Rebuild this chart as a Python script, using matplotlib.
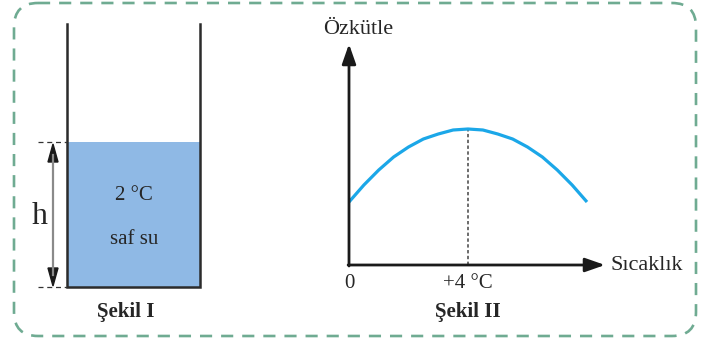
import matplotlib
matplotlib.use("Agg")
import matplotlib.pyplot as plt
from matplotlib.patches import FancyBboxPatch, Rectangle, Polygon

# ---- data ----
temps = [0, 0.5, 1, 1.5, 2, 2.5, 3, 3.5, 4, 4.5, 5, 5.5, 6, 6.5, 7, 7.5, 8]
density = [63, 80, 95, 108, 118, 126, 131, 135, 136, 135, 131, 126, 118, 108, 95, 80, 63]
tick_pos = [0, 4]
tick_labels = ["0", "+4 °C"]
peak_temp = 4
y_label = "Özkütle"
x_label = "Sıcaklık"
water_text = ["2 °C", "saf su"]
captions = ["Şekil I", "Şekil II"]

W, H = 701, 341
SERIF = ["Liberation Serif", "DejaVu Serif"]
TXT = "#262626"
fig = plt.figure(figsize=(W / 100, H / 100), dpi=100)
fig.patch.set_facecolor("white")

# overlay axes in pixel coordinates
ax0 = fig.add_axes([0, 0, 1, 1])
ax0.set_xlim(0, W)
ax0.set_ylim(H, 0)
ax0.axis("off")

green = "#6fab92"
border = FancyBboxPatch((14, 3), 682, 333, boxstyle="round,pad=0,rounding_size=24",
                        fill=False, edgecolor=green, linewidth=1.9,
                        linestyle=(0, (4.6, 3.4)))
ax0.add_patch(border)

# beaker
bl, br, btop, bbot, wtop = 67, 200, 24, 287, 142
ax0.add_patch(Rectangle((bl, wtop), br - bl, bbot - wtop, facecolor="#8fb9e5", edgecolor="none"))
ax0.plot([bl, bl, br, br], [btop, bbot, bbot, btop], color="#2b2b2b", lw=1.8, solid_joinstyle="miter")
# h dimension
ax0.plot([38, bl], [wtop, wtop], color="#333333", lw=0.9, ls=(0, (4, 3)))
ax0.plot([38, bl], [bbot, bbot], color="#333333", lw=0.9, ls=(0, (4, 3)))
ax0.plot([53, 53], [155, 275], color="#8a8a8a", lw=1.6)
ax0.add_patch(Polygon([[53, 144], [48, 162], [58, 162]], closed=True, color="#1a1a1a"))
ax0.add_patch(Polygon([[53, 286], [48, 268], [58, 268]], closed=True, color="#1a1a1a"))
ax0.text(40, 217, "h", family=SERIF, fontsize=23, ha="center", va="center", color=TXT)
ax0.text(134, 196, water_text[0], family=SERIF, fontsize=15, ha="center", va="center", color=TXT)
ax0.text(134, 240, water_text[1], family=SERIF, fontsize=15, ha="center", va="center", color=TXT)
ax0.text(126, 312, captions[0], family=SERIF, fontsize=15, fontweight="bold", ha="center", va="center", color=TXT)
ax0.text(468, 312, captions[1], family=SERIF, fontsize=15, fontweight="bold", ha="center", va="center", color=TXT)

# graph axes: origin at (349, 265) px, 29.75 px per degree
ox, oy, ppd = 349, 265, 29.75
xmax, ymax = 9.5, 240
ax = fig.add_axes([ox / W, (H - oy) / H, xmax * ppd / W, ymax / H])
ax.set_xlim(0, xmax)
ax.set_ylim(0, ymax)
ax.axis("off")
ax.patch.set_alpha(0)

ax.plot(temps, density, color="#1ba7e8", lw=2.3, solid_capstyle="butt", solid_joinstyle="round", zorder=3)
peak = density[temps.index(peak_temp)]
ax.plot([peak_temp, peak_temp], [0, peak], color="#444444", lw=1.1, ls=(0, (2.2, 1.6)), zorder=2)

axis_col = "#1a1a1a"
ax.annotate("", xy=(0, 221), xytext=(0, -1), xycoords="data",
            arrowprops=dict(arrowstyle="-|>,head_length=1.2,head_width=0.42", color=axis_col, lw=2.0,
                            shrinkA=0, shrinkB=0), annotation_clip=False)
ax.annotate("", xy=(256 / ppd, 0), xytext=(-0.03, 0), xycoords="data",
            arrowprops=dict(arrowstyle="-|>,head_length=1.2,head_width=0.42", color=axis_col, lw=2.0,
                            shrinkA=0, shrinkB=0), annotation_clip=False)

for p, lab in zip(tick_pos, tick_labels):
    ax.text(p, -18, lab, family=SERIF, fontsize=15, ha="center", va="center", color=TXT, clip_on=False)
ax.text(0.3, 235, y_label, family=SERIF, fontsize=16, ha="center", va="center", color=TXT, clip_on=False)
ax.text(261 / ppd, -1, x_label, family=SERIF, fontsize=16, ha="left", va="center", color=TXT, clip_on=False)

fig.savefig("out.png", dpi=100, facecolor="white")
